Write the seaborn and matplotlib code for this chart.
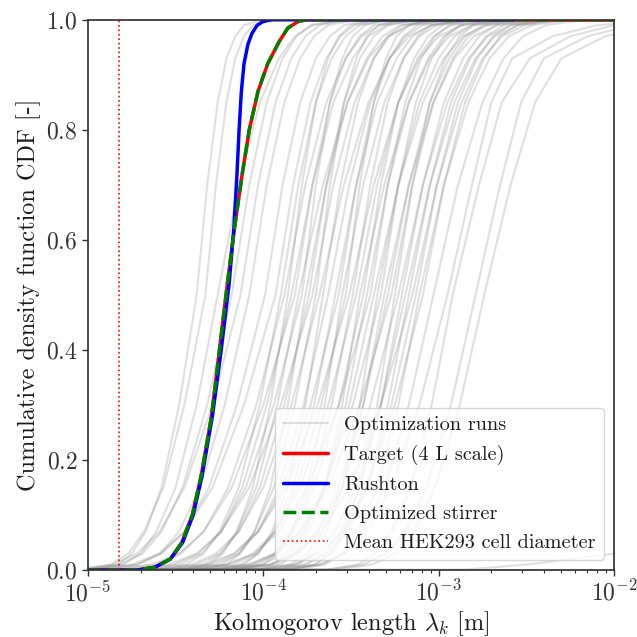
import numpy as np
import pandas as pd
import matplotlib
matplotlib.use("Agg")
import matplotlib.pyplot as plt
from matplotlib.lines import Line2D
import seaborn as sns

# CDF levels at which every optimization run is tabulated
run_levels = [0.001, 0.01, 0.03, 0.07, 0.15, 0.30, 0.50,
              0.70, 0.85, 0.93, 0.97, 0.99, 0.999]

# log10 of the Kolmogorov length [m] of each optimization run at those levels
run_q001 = [-4.98, -5.05, -4.98, -5.02, -5.09, -4.92, -4.95, -5.01,
            -4.62, -4.84, -4.46, -4.68, -4.90, -4.52, -4.74, -4.36, -4.58, -4.80, -4.42, -4.64, -4.26, -4.47,
            -4.31, -4.53, -4.15, -4.37, -4.59, -4.21, -4.43, -4.05, -4.27, -4.13, -4.47, -4.21, -3.95, -4.29,
            -4.03, -4.13, -4.35, -3.85, -4.19, -3.93, -4.03, -3.89, -4.23, -3.97, -3.83, -4.05,
            -3.87, -3.91, -3.64, -3.63, -3.58, -2.85]
run_q01 = [-4.83, -4.87, -4.80, -4.82, -4.86, -4.72, -4.72, -4.75,
           -4.44, -4.61, -4.31, -4.48, -4.64, -4.34, -4.51, -4.21, -4.38, -4.54, -4.24, -4.41, -4.11, -4.27,
           -4.13, -4.30, -4.00, -4.17, -4.33, -4.03, -4.20, -3.90, -4.07, -3.95, -4.21, -4.01, -3.80, -4.06,
           -3.85, -3.93, -4.09, -3.70, -3.96, -3.75, -3.83, -3.71, -3.97, -3.77, -3.65, -3.82,
           -3.67, -3.68, -3.46, -3.43, -3.38, -2.50]
run_q03 = [-4.75, -4.77, -4.70, -4.69, -4.72, -4.59, -4.58, -4.59,
           -4.34, -4.47, -4.23, -4.35, -4.48, -4.24, -4.37, -4.13, -4.25, -4.38, -4.14, -4.27, -4.03, -4.14,
           -4.03, -4.16, -3.92, -4.04, -4.17, -3.93, -4.06, -3.82, -3.94, -3.85, -4.05, -3.88, -3.72, -3.92,
           -3.75, -3.80, -3.93, -3.62, -3.82, -3.65, -3.70, -3.61, -3.81, -3.64, -3.55, -3.68,
           -3.54, -3.54, -3.36, -3.30, -3.25, -2.00]
run_q07 = [-4.67, -4.68, -4.61, -4.58, -4.59, -4.48, -4.45, -4.45,
           -4.25, -4.34, -4.15, -4.24, -4.34, -4.15, -4.24, -4.05, -4.14, -4.24, -4.05, -4.14, -3.95, -4.03,
           -3.94, -4.03, -3.84, -3.93, -4.03, -3.84, -3.93, -3.74, -3.83, -3.76, -3.91, -3.77, -3.64, -3.79,
           -3.66, -3.69, -3.79, -3.54, -3.69, -3.56, -3.59, -3.52, -3.67, -3.53, -3.46, -3.55,
           -3.43, -3.41, -3.27, -3.19, -3.14, -1.80]
run_q15 = [-4.58, -4.57, -4.50, -4.46, -4.45, -4.36, -4.31, -4.29,
           -4.14, -4.20, -4.06, -4.12, -4.18, -4.04, -4.10, -3.96, -4.02, -4.08, -3.94, -4.00, -3.86, -3.91,
           -3.83, -3.89, -3.75, -3.81, -3.87, -3.73, -3.79, -3.65, -3.71, -3.65, -3.75, -3.65, -3.55, -3.65,
           -3.55, -3.57, -3.63, -3.45, -3.55, -3.45, -3.47, -3.41, -3.51, -3.41, -3.35, -3.41,
           -3.31, -3.27, -3.16, -3.07, -3.02, -1.65]
run_q30 = [-4.48, -4.45, -4.38, -4.32, -4.29, -4.22, -4.15, -4.11,
           -4.02, -4.04, -3.96, -3.98, -4.00, -3.92, -3.94, -3.86, -3.88, -3.90, -3.82, -3.84, -3.76, -3.77,
           -3.71, -3.73, -3.65, -3.67, -3.69, -3.61, -3.63, -3.55, -3.57, -3.53, -3.57, -3.51, -3.45, -3.49,
           -3.43, -3.43, -3.45, -3.35, -3.39, -3.33, -3.33, -3.29, -3.33, -3.27, -3.23, -3.25,
           -3.17, -3.11, -3.04, -2.93, -2.88, -1.50]
run_q50 = [-4.38, -4.33, -4.26, -4.18, -4.13, -4.08, -3.99, -3.93,
           -3.90, -3.88, -3.86, -3.84, -3.82, -3.80, -3.78, -3.76, -3.74, -3.72, -3.70, -3.68, -3.66, -3.63,
           -3.59, -3.57, -3.55, -3.53, -3.51, -3.49, -3.47, -3.45, -3.43, -3.41, -3.39, -3.37, -3.35, -3.33,
           -3.31, -3.29, -3.27, -3.25, -3.23, -3.21, -3.19, -3.17, -3.15, -3.13, -3.11, -3.09,
           -3.03, -2.95, -2.92, -2.79, -2.74, -1.35]
run_q70 = [-4.32, -4.27, -4.14, -4.08, -4.03, -3.98, -3.89, -3.83,
           -3.80, -3.76, -3.78, -3.72, -3.72, -3.66, -3.70, -3.64, -3.64, -3.60, -3.62, -3.54, -3.56, -3.51,
           -3.47, -3.47, -3.43, -3.45, -3.37, -3.39, -3.35, -3.31, -3.33, -3.29, -3.29, -3.23, -3.23, -3.23,
           -3.17, -3.17, -3.15, -3.15, -3.09, -3.09, -3.05, -3.05, -3.01, -3.01, -2.97, -2.97,
           -2.89, -2.81, -2.77, -2.65, -2.59, -1.20]
run_q85 = [-4.26, -4.21, -4.02, -3.98, -3.93, -3.88, -3.79, -3.73,
           -3.70, -3.64, -3.70, -3.60, -3.62, -3.52, -3.62, -3.52, -3.54, -3.48, -3.54, -3.40, -3.46, -3.39,
           -3.35, -3.37, -3.31, -3.37, -3.23, -3.29, -3.23, -3.17, -3.23, -3.17, -3.19, -3.09, -3.11, -3.13,
           -3.03, -3.05, -3.03, -3.05, -2.95, -2.97, -2.91, -2.93, -2.87, -2.89, -2.83, -2.85,
           -2.75, -2.70, -2.64, -2.53, -2.45, -1.05]
run_q93 = [-4.21, -4.16, -3.91, -3.89, -3.84, -3.79, -3.70, -3.64,
           -3.61, -3.53, -3.63, -3.49, -3.53, -3.40, -3.55, -3.41, -3.45, -3.37, -3.47, -3.28, -3.37, -3.28,
           -3.24, -3.28, -3.20, -3.30, -3.11, -3.20, -3.12, -3.05, -3.14, -3.06, -3.10, -2.97, -3.00, -3.04,
           -2.91, -2.94, -2.92, -2.96, -2.83, -2.86, -2.79, -2.82, -2.75, -2.78, -2.71, -2.74,
           -2.63, -2.58, -2.48, -2.40, -2.30, -0.95]
run_q97 = [-4.16, -4.11, -3.82, -3.81, -3.76, -3.71, -3.62, -3.56,
           -3.53, -3.44, -3.57, -3.40, -3.45, -3.29, -3.49, -3.32, -3.37, -3.28, -3.41, -3.17, -3.29, -3.19,
           -3.15, -3.20, -3.11, -3.24, -3.00, -3.12, -3.03, -2.94, -3.06, -2.97, -3.02, -2.86, -2.91, -2.96,
           -2.80, -2.85, -2.83, -2.88, -2.72, -2.77, -2.68, -2.73, -2.64, -2.69, -2.60, -2.65,
           -2.52, -2.35, -2.25, -2.15, -2.05, -0.85]
run_q99 = [-4.11, -4.06, -3.72, -3.73, -3.68, -3.63, -3.54, -3.48,
           -3.45, -3.34, -3.50, -3.30, -3.37, -3.16, -3.42, -3.22, -3.29, -3.18, -3.34, -3.04, -3.21, -3.09,
           -3.05, -3.12, -3.01, -3.17, -2.87, -3.04, -2.93, -2.81, -2.98, -2.87, -2.94, -2.73, -2.81, -2.88,
           -2.67, -2.75, -2.73, -2.80, -2.59, -2.67, -2.55, -2.63, -2.51, -2.59, -2.47, -2.55,
           -2.39, -2.10, -2.00, -1.90, -1.80, -0.75]
run_q999 = [-4.02, -3.97, -3.54, -3.58, -3.53, -3.48, -3.39, -3.33,
            -3.30, -3.16, -3.38, -3.12, -3.22, -2.96, -3.30, -3.04, -3.14, -3.00, -3.22, -2.84, -3.06, -2.91,
            -2.87, -2.97, -2.83, -3.05, -2.67, -2.89, -2.75, -2.61, -2.83, -2.69, -2.79, -2.53, -2.63, -2.73,
            -2.47, -2.57, -2.55, -2.65, -2.39, -2.49, -2.35, -2.45, -2.31, -2.41, -2.27, -2.37,
            -2.19, -1.70, -1.60, -1.50, -1.40, -0.55]

# Target (4 L scale): log10 length [m] and CDF
target_logx = [-5.00, -4.72, -4.62, -4.53, -4.465, -4.405, -4.355, -4.295, -4.25, -4.205,
               -4.165, -4.12, -4.08, -4.03, -3.975, -3.91, -3.86, -3.80, -3.75, -2.00]
target_cdf = [0.0, 0.0, 0.005, 0.02, 0.05, 0.10, 0.17, 0.28, 0.40, 0.52,
              0.62, 0.72, 0.80, 0.87, 0.92, 0.96, 0.985, 0.997, 1.0, 1.0]

# Optimized stirrer
optimized_logx = [-5.00, -4.72, -4.62, -4.53, -4.465, -4.405, -4.355, -4.295, -4.25, -4.205,
                  -4.165, -4.12, -4.08, -4.03, -3.975, -3.91, -3.86, -3.80, -3.75, -2.00]
optimized_cdf = [0.0, 0.0, 0.005, 0.02, 0.05, 0.10, 0.17, 0.28, 0.40, 0.52,
                 0.62, 0.72, 0.80, 0.87, 0.92, 0.96, 0.985, 0.997, 1.0, 1.0]

# Rushton turbine
rushton_logx = [-5.00, -4.72, -4.62, -4.53, -4.46, -4.40, -4.35, -4.29, -4.24, -4.195,
                -4.168, -4.150, -4.138, -4.125, -4.110, -4.088, -4.065, -4.035, -4.00, -3.95, -2.57]
rushton_cdf = [0.0, 0.0, 0.005, 0.02, 0.05, 0.10, 0.17, 0.28, 0.40, 0.52,
               0.62, 0.72, 0.80, 0.87, 0.92, 0.955, 0.975, 0.99, 0.997, 1.0, 1.0]

# Mean HEK293 cell diameter [m]
hek293_diameter = 1.5e-5

# ---------------------------------------------------------------------------
sns.set_theme(style="ticks")
plt.rcParams.update({
    "font.family": "serif",
    "font.serif": ["cmr10"],
    "mathtext.fontset": "cm",
    "axes.formatter.use_mathtext": True,
    "axes.edgecolor": "0.2",
    "xtick.color": "0.2",
    "ytick.color": "0.2",
    "text.color": "0.1",
    "axes.labelcolor": "0.1",
})

quantiles = np.column_stack([run_q001, run_q01, run_q03, run_q07, run_q15, run_q30, run_q50,
                             run_q70, run_q85, run_q93, run_q97, run_q99, run_q999])
frames = []
for i, q in enumerate(quantiles):
    logx = np.concatenate([[-6.0], q, [1.0]])
    cdf = np.concatenate([[0.0], run_levels, [1.0]])
    frames.append(pd.DataFrame({"run": i, "length": 10.0 ** logx, "cdf": cdf}))
runs = pd.concat(frames, ignore_index=True)

fig = plt.figure(figsize=(6.37, 6.37), dpi=100)
ax = fig.add_axes([0.138, 0.105, 0.826, 0.864])
ax.set_xscale("log")

sns.lineplot(data=runs, x="length", y="cdf", units="run", estimator=None,
             sort=False, color="gray", alpha=0.25, lw=1.5, legend=False, ax=ax)

sns.lineplot(x=10.0 ** np.array(target_logx), y=target_cdf, sort=False,
             estimator=None, color="red", lw=2.5, label="Target (4 L scale)", ax=ax)
sns.lineplot(x=10.0 ** np.array(rushton_logx), y=rushton_cdf, sort=False,
             estimator=None, color="blue", lw=2.5, label="Rushton", ax=ax)
sns.lineplot(x=10.0 ** np.array(optimized_logx), y=optimized_cdf, sort=False,
             estimator=None, color="green", lw=2.5, ls="--",
             label="Optimized stirrer", ax=ax)
ax.axvline(hek293_diameter, color="red", ls=":", lw=1.2,
           label="Mean HEK293 cell diameter")

ax.set_xlim(1e-5, 1e-2)
ax.set_ylim(0.0, 1.0)
ax.set_xlabel(r"Kolmogorov length $\lambda_k$ [m]", fontsize=17.5, labelpad=2)
ax.set_ylabel("Cumulative density function CDF [-]", fontsize=17.5, labelpad=4)
ax.tick_params(axis="both", which="major", labelsize=17, length=4.5, width=1.0, pad=3)
ax.tick_params(axis="both", which="minor", length=2.5, width=0.8)

handles, labels = ax.get_legend_handles_labels()
runs_handle = Line2D([], [], color="gray", alpha=0.25, lw=1.5)
ax.legend([runs_handle] + handles, ["Optimization runs"] + labels,
          loc="lower right", fontsize=14.6, handlelength=2.2,
          labelspacing=0.53, borderaxespad=0.5)

fig.savefig("out.png", dpi=100)
